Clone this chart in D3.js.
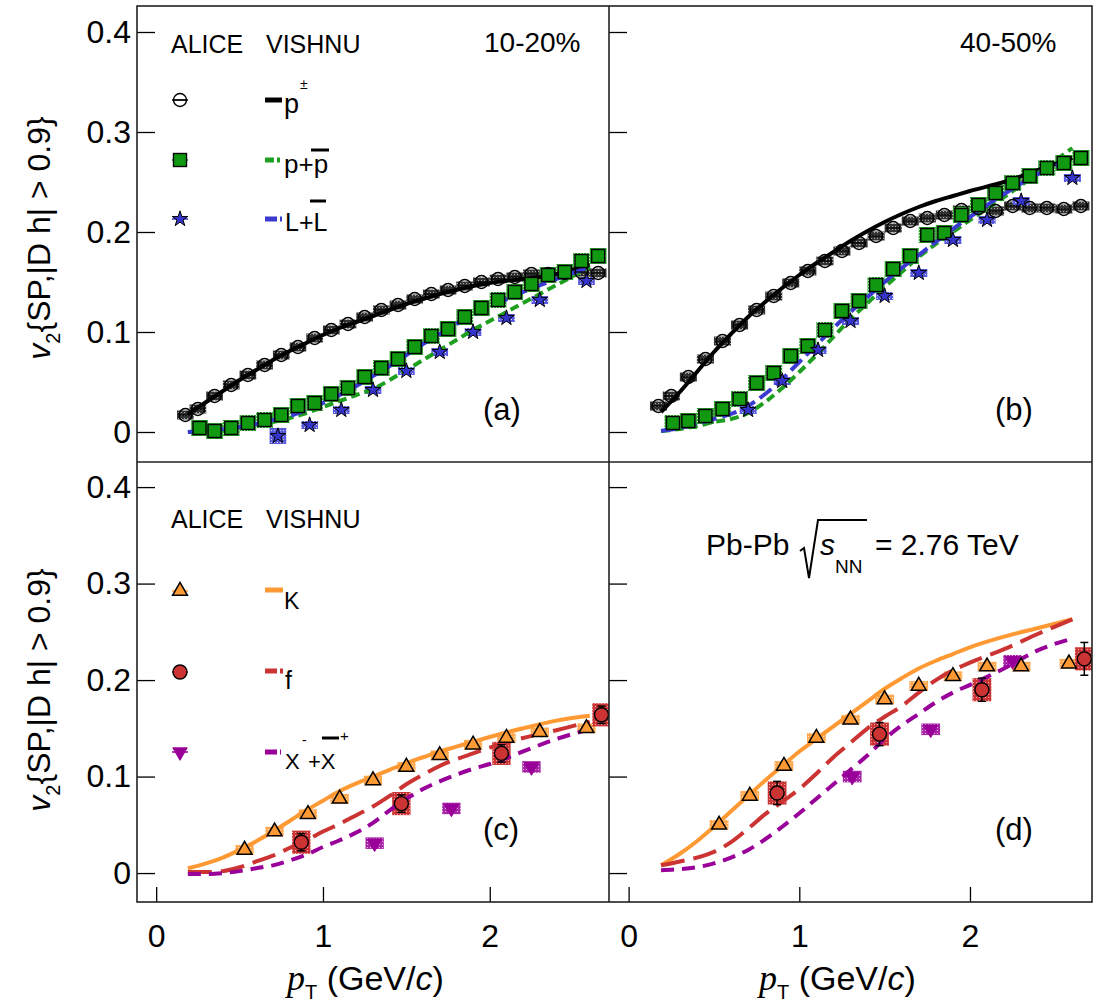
<!DOCTYPE html>
<html><head><meta charset="utf-8">
<script src="https://cdn.jsdelivr.net/npm/d3@7"></script>
<style>
body{margin:0;background:#fff}
svg{display:block}
text{font-family:"Liberation Sans",Arial,Helvetica,sans-serif;fill:#000}
</style>
</head><body>
<svg id="chart" width="1095" height="1006"></svg>
<script>
// ---------------- tick labels ----------------
const yTicks = [0, 0.1, 0.2, 0.3, 0.4];
const xTicks = [0, 1, 2];
const yTickLabels = ["0", "0.1", "0.2", "0.3", "0.4"];
const xTickLabels = ["0", "1", "2"];

// ---------------- measured points ----------------
// pions (a: 10-20%, b: 40-50%)
const piPt  = [0.175,0.25,0.35,0.45,0.55,0.65,0.75,0.85,0.95,1.05,1.15,1.25,1.35,1.45,1.55,1.65,1.75,1.85,1.95,2.05,2.15,2.25,2.35,2.45,2.55,2.65];
const piV2A = [0.017,0.023,0.036,0.047,0.057,0.067,0.077,0.085,0.094,0.102,0.108,0.115,0.122,0.127,0.133,0.138,0.142,0.146,0.150,0.153,0.155,0.158,0.158,0.159,0.160,0.159];
const piV2B = [0.026,0.036,0.055,0.073,0.091,0.107,0.122,0.136,0.149,0.161,0.171,0.181,0.189,0.196,0.204,0.211,0.214,0.217,0.222,0.224,0.221,0.226,0.224,0.224,0.223,0.226];
// protons
const pPt  = [0.26,0.35,0.45,0.55,0.65,0.75,0.85,0.95,1.05,1.15,1.25,1.35,1.45,1.55,1.65,1.75,1.85,1.95,2.05,2.15,2.25,2.35,2.45,2.55,2.65];
const pV2A = [0.004,0.001,0.004,0.009,0.012,0.017,0.026,0.029,0.038,0.044,0.055,0.064,0.073,0.085,0.096,0.103,0.115,0.124,0.132,0.140,0.148,0.157,0.160,0.171,0.176];
const pV2B = [0.009,0.011,0.016,0.023,0.033,0.049,0.059,0.076,0.086,0.102,0.121,0.131,0.147,0.163,0.176,0.197,0.199,0.217,0.227,0.239,0.249,0.256,0.264,0.269,0.274];
// lambdas
const laPtA = [0.73,0.92,1.11,1.30,1.50,1.70,1.90,2.10,2.30,2.58];
const laV2A = [-0.004,0.007,0.022,0.042,0.061,0.080,0.100,0.114,0.132,0.151];
const laSysA = [0.008,0.004,0.004,0.004,0.004,0.004,0.004,0.004,0.004,0.004];
const laPtB = [0.70,0.90,1.11,1.30,1.50,1.70,1.90,2.10,2.30,2.60];
const laV2B = [0.022,0.051,0.082,0.111,0.136,0.159,0.192,0.212,0.231,0.254];
// kaons (c: 10-20%, d: 40-50%)
const kPt  = [0.53,0.71,0.91,1.10,1.30,1.50,1.70,1.90,2.10,2.30,2.58];
const kV2C = [0.024,0.043,0.061,0.077,0.096,0.110,0.122,0.133,0.140,0.146,0.150];
const kV2D = [0.050,0.080,0.111,0.140,0.159,0.180,0.194,0.204,0.214,0.214,0.217];
// phi
const phiPt  = [0.87,1.47,2.07,2.67];
const phiV2C = [0.032,0.072,0.124,0.164];
const phiV2D = [0.083,0.144,0.190,0.222];
const phiErrC = [0.009,0.009,0.009,0.009];
const phiErrD = [0.012,0.012,0.012,0.017];
// xi
const xiPt  = [1.31,1.77,2.25];
const xiV2C = [0.031,0.067,0.110];
const xiV2D = [0.100,0.149,0.220];

// ---------------- VISHNU curves ----------------
const modelPt = [0.19,0.3,0.4,0.5,0.6,0.7,0.8,0.9,1.0,1.1,1.2,1.3,1.4,1.5,1.6,1.7,1.8,1.9,2.0,2.2,2.4,2.6];
const piModelA  = [0.018,0.030,0.041,0.052,0.062,0.072,0.081,0.089,0.097,0.104,0.110,0.116,0.122,0.128,0.133,0.138,0.142,0.146,0.149,0.153,0.158,0.167];
const pModelA   = [0.000,0.001,0.002,0.004,0.007,0.010,0.014,0.019,0.025,0.031,0.037,0.043,0.052,0.062,0.072,0.082,0.092,0.102,0.111,0.129,0.147,0.165];
const laModelA  = [0.000,0.001,0.003,0.005,0.008,0.012,0.016,0.022,0.029,0.037,0.046,0.056,0.066,0.077,0.088,0.098,0.108,0.117,0.125,0.140,0.153,0.165];
const piModelB  = [0.020,0.040,0.060,0.080,0.098,0.115,0.130,0.144,0.157,0.169,0.180,0.191,0.201,0.210,0.218,0.225,0.231,0.236,0.241,0.250,0.262,0.274];
const pModelB   = [0.001,0.003,0.006,0.010,0.013,0.019,0.030,0.044,0.060,0.077,0.095,0.113,0.129,0.145,0.160,0.175,0.188,0.200,0.212,0.235,0.259,0.284];
const laModelB  = [0.001,0.004,0.008,0.013,0.018,0.026,0.038,0.053,0.070,0.087,0.104,0.120,0.135,0.150,0.164,0.177,0.190,0.203,0.215,0.238,0.258,0.273];
const kModelC   = [0.005,0.010,0.016,0.024,0.033,0.043,0.054,0.065,0.075,0.085,0.093,0.100,0.107,0.114,0.120,0.126,0.131,0.136,0.141,0.150,0.158,0.163];
const phiModelC = [0.001,0.001,0.002,0.006,0.012,0.018,0.026,0.034,0.043,0.051,0.060,0.069,0.080,0.092,0.102,0.111,0.118,0.124,0.130,0.140,0.148,0.157];
const xiModelC  = [-0.001,-0.001,0.000,0.002,0.005,0.008,0.013,0.019,0.027,0.034,0.042,0.052,0.065,0.077,0.087,0.095,0.102,0.108,0.113,0.126,0.139,0.149];
const kModelD   = [0.008,0.020,0.033,0.048,0.064,0.080,0.096,0.111,0.126,0.139,0.152,0.165,0.178,0.191,0.202,0.212,0.220,0.227,0.234,0.245,0.254,0.263];
const phiModelD = [0.008,0.012,0.016,0.022,0.032,0.046,0.061,0.074,0.087,0.103,0.120,0.135,0.150,0.162,0.173,0.187,0.200,0.210,0.218,0.232,0.248,0.263];
const xiModelD  = [0.003,0.004,0.006,0.010,0.016,0.024,0.035,0.048,0.062,0.077,0.092,0.107,0.122,0.139,0.153,0.165,0.177,0.187,0.195,0.212,0.231,0.243];

// ---------------- styles ----------------
const FONT = '"Liberation Sans",Arial,Helvetica,sans-serif';
const species = {
  pi:  {marker:'ocircle', fill:'none',    box:'stPi', boxDx:0.05,  boxDy:0.0045, line:'#000000', dash:null,    lw:4},
  p:   {marker:'square',  fill:'#119911', box:'stP',  boxDx:0.05,  boxDy:0.008,  line:'#1f9f1f', dash:'9,5',   lw:4},
  la:  {marker:'star',    fill:'#3434cc', box:'stLa', boxDx:0.05,  boxDy:0.004,  line:'#3a3ad0', dash:'15,6',  lw:4},
  k:   {marker:'tri',     fill:'#ff9933', box:'stK',  boxDx:0.055, boxDy:0.005,  line:'#ff9933', dash:null,    lw:4},
  phi: {marker:'circle',  fill:'#cc3333', box:'stPhi',boxDx:0.055, boxDy:0.012,  line:'#cc3333', dash:'24,9',  lw:4},
  xi:  {marker:'dtri',    fill:'#990099', box:'stXi', boxDx:0.055, boxDy:0.006,  line:'#990099', dash:'13,8',  lw:4}
};

const xDom = [-0.115, 2.715];
const yDom = [-0.03, 0.426];
const L = 137, M = 609, R = 1092, T = 6, MID = 462, B = 902;

const panels = [
  {key:'a', px:[L,M], py:[T,MID], yLab:true, xAx:false,
   pts:[{sp:'pi',pt:piPt,v:piV2A},{sp:'p',pt:pPt,v:pV2A},{sp:'la',pt:laPtA,v:laV2A,sys:laSysA}],
   mods:[{sp:'pi',v:piModelA},{sp:'p',v:pModelA},{sp:'la',v:laModelA}]},
  {key:'b', px:[M,R], py:[T,MID], yLab:false, xAx:false,
   pts:[{sp:'pi',pt:piPt,v:piV2B},{sp:'p',pt:pPt,v:pV2B},{sp:'la',pt:laPtB,v:laV2B}],
   mods:[{sp:'pi',v:piModelB},{sp:'p',v:pModelB},{sp:'la',v:laModelB}]},
  {key:'c', px:[L,M], py:[MID,B], yLab:true, xAx:true,
   pts:[{sp:'k',pt:kPt,v:kV2C},{sp:'phi',pt:phiPt,v:phiV2C,err:phiErrC},{sp:'xi',pt:xiPt,v:xiV2C}],
   mods:[{sp:'k',v:kModelC},{sp:'phi',v:phiModelC},{sp:'xi',v:xiModelC}]},
  {key:'d', px:[M,R], py:[MID,B], yLab:false, xAx:true,
   pts:[{sp:'k',pt:kPt,v:kV2D},{sp:'phi',pt:phiPt,v:phiV2D,err:phiErrD},{sp:'xi',pt:xiPt,v:xiV2D}],
   mods:[{sp:'k',v:kModelD},{sp:'phi',v:phiModelD},{sp:'xi',v:xiModelD}]}
];

const svg = d3.select('#chart');
svg.append('rect').attr('width',1095).attr('height',1006).attr('fill','#fff');
const defs = svg.append('defs');
function stipple(id, bg, dot){
  const p = defs.append('pattern').attr('id',id).attr('width',3).attr('height',3).attr('patternUnits','userSpaceOnUse');
  p.append('rect').attr('width',3).attr('height',3).attr('fill',bg);
  p.append('rect').attr('x',1).attr('y',1).attr('width',1).attr('height',1).attr('fill',dot);
}
stipple('stPi','#333333','#aaaaaa');
stipple('stP','#2ea52e','#c4ecc4');
stipple('stLa','#5a5ae0','#d0d0f8');
stipple('stK','#ffa850','#ffe2c0');
stipple('stPhi','#cc3535','#f2a8a8');
stipple('stXi','#a626a6','#e8b0e8');

function drawMarker(g, type, cx, cy, fill, withBar, barColor){
  if (withBar){
    g.append('line').attr('x1',cx-8).attr('x2',cx+8).attr('y1',cy).attr('y2',cy)
      .attr('stroke',barColor).attr('stroke-width',1.5);
  }
  if (type==='ocircle'){
    g.append('circle').attr('cx',cx).attr('cy',cy).attr('r',6.5).attr('fill','none').attr('stroke','#000').attr('stroke-width',1.4);
    g.append('line').attr('x1',cx-6.5).attr('x2',cx+6.5).attr('y1',cy).attr('y2',cy).attr('stroke','#000').attr('stroke-width',1.2);
  } else if (type==='square'){
    g.append('rect').attr('x',cx-6.5).attr('y',cy-6.5).attr('width',13).attr('height',13)
      .attr('fill',fill).attr('stroke','#000').attr('stroke-width',1.4);
  } else if (type==='star'){
    g.append('path').attr('d',d3.symbol(d3.symbolStar,75)()).attr('transform',`translate(${cx},${cy})`)
      .attr('fill',fill).attr('stroke','#000').attr('stroke-width',1);
  } else if (type==='tri'){
    g.append('path').attr('d',d3.symbol(d3.symbolTriangle,95)()).attr('transform',`translate(${cx},${cy})`)
      .attr('fill',fill).attr('stroke','#000').attr('stroke-width',1.5);
  } else if (type==='circle'){
    g.append('circle').attr('cx',cx).attr('cy',cy).attr('r',7).attr('fill',fill).attr('stroke','#000').attr('stroke-width',1.4);
  } else if (type==='dtri'){
    g.append('path').attr('d',d3.symbol(d3.symbolTriangle,90)()).attr('transform',`translate(${cx},${cy}) rotate(180)`)
      .attr('fill',fill).attr('stroke',fill).attr('stroke-width',1);
  }
}

panels.forEach(P => {
  const x = d3.scaleLinear().domain(xDom).range(P.px);
  const y = d3.scaleLinear().domain(yDom).range([P.py[1], P.py[0]]);
  const cid = 'clip'+P.key;
  defs.append('clipPath').attr('id',cid).append('rect')
    .attr('x',P.px[0]).attr('y',P.py[0]).attr('width',P.px[1]-P.px[0]).attr('height',P.py[1]-P.py[0]);
  const g = svg.append('g').attr('clip-path',`url(#${cid})`);

  // systematic boxes
  P.pts.forEach(s => {
    const st = species[s.sp];
    s.pt.forEach((pt,i) => {
      const dy = s.sys ? s.sys[i] : st.boxDy;
      g.append('rect').attr('x',x(pt-st.boxDx)).attr('y',y(s.v[i]+dy))
        .attr('width',x(pt+st.boxDx)-x(pt-st.boxDx)).attr('height',y(s.v[i]-dy)-y(s.v[i]+dy))
        .attr('fill',`url(#${st.box})`);
    });
  });
  // model curves
  const line = d3.line().x((d,i)=>x(modelPt[i])).y(d=>y(d)).curve(d3.curveMonotoneX);
  P.mods.forEach(m => {
    const st = species[m.sp];
    g.append('path').attr('d',line(m.v)).attr('fill','none').attr('stroke',st.line)
      .attr('stroke-width',st.lw).attr('stroke-dasharray',st.dash);
  });
  // stat errors + markers
  P.pts.forEach(s => {
    const st = species[s.sp];
    s.pt.forEach((pt,i) => {
      if (s.err){
        const cx = x(pt), y1 = y(s.v[i]+s.err[i]), y2 = y(s.v[i]-s.err[i]);
        g.append('line').attr('x1',cx).attr('x2',cx).attr('y1',y1).attr('y2',y2).attr('stroke','#000').attr('stroke-width',1.5);
        [y1,y2].forEach(yy => g.append('line').attr('x1',cx-4).attr('x2',cx+4).attr('y1',yy).attr('y2',yy).attr('stroke','#000').attr('stroke-width',1.5));
      }
      drawMarker(g, st.marker, x(pt), y(s.v[i]), st.fill, false);
    });
  });

  // axes
  const ya = svg.append('g').attr('transform',`translate(${P.px[0]},0)`)
    .call(d3.axisLeft(y).tickValues(yTicks).tickSizeInner(-18).tickSizeOuter(0).tickPadding(6)
      .tickFormat((d,i)=> P.yLab ? yTickLabels[i] : ''));
  ya.select('.domain').remove();
  ya.selectAll('line').attr('stroke','#000').attr('stroke-width',1.3);
  ya.selectAll('text').attr('font-size',32).attr('font-family',FONT).attr('fill','#000');
  if (P.xAx){
    const xa = svg.append('g').attr('transform',`translate(0,${P.py[1]})`)
      .call(d3.axisBottom(x).tickValues(xTicks).tickSizeInner(-15).tickSizeOuter(0).tickPadding(22)
        .tickFormat((d,i)=>xTickLabels[i]));
    xa.select('.domain').remove();
    xa.selectAll('line').attr('stroke','#000').attr('stroke-width',1.3);
    xa.selectAll('text').attr('font-size',32).attr('font-family',FONT).attr('fill','#000');
  }
});

// frame
svg.append('rect').attr('x',L).attr('y',T).attr('width',R-L).attr('height',B-T)
  .attr('fill','none').attr('stroke','#222').attr('stroke-width',1.6);
svg.append('line').attr('x1',M).attr('x2',M).attr('y1',T).attr('y2',B).attr('stroke','#222').attr('stroke-width',1.6);
svg.append('line').attr('x1',L).attr('x2',R).attr('y1',MID).attr('y2',MID).attr('stroke','#222').attr('stroke-width',1.6);

// helper text
function txt(x0,y0,s,size,opts={}){
  const t = svg.append('text').attr('x',x0).attr('y',y0).attr('font-size',size).text(s);
  if (opts.italic) t.attr('font-style','italic');
  if (opts.family) t.attr('font-family',opts.family);
  if (opts.anchor) t.attr('text-anchor',opts.anchor);
  return t;
}
function legLine(x1,x2,yy,sp){
  const st = species[sp];
  svg.append('line').attr('x1',x1).attr('x2',x2).attr('y1',yy).attr('y2',yy)
    .attr('stroke',st.line).attr('stroke-width',5).attr('stroke-dasharray',st.dash ? (sp==='p'?'9,3,3,3':'12,3') : null);
}

// legend (a)
txt(171,53,'ALICE',25); txt(266,53,'VISHNU',25);
txt(484,52,'10-20%',28);
drawMarker(svg,'ocircle',180,100,'none',true,'#000');
legLine(265,282,100,'pi'); txt(284,113,'p',27); txt(300,89,'±',14);
drawMarker(svg,'square',180,160,species.p.fill,true,species.p.fill);
legLine(265,282,160,'p'); txt(284,173,'p+p',26);
svg.append('line').attr('x1',311).attr('x2',329).attr('y1',150).attr('y2',150).attr('stroke','#000').attr('stroke-width',3);
drawMarker(svg,'star',180,219,species.la.fill,true,species.la.fill);
legLine(265,282,219,'la'); txt(285,231,'L+L',25);
svg.append('line').attr('x1',310).attr('x2',326).attr('y1',201).attr('y2',201).attr('stroke','#000').attr('stroke-width',3);

// panel (b)
txt(960,52,'40-50%',28);

// legend (c)
txt(171,528,'ALICE',25); txt(266,528,'VISHNU',25);
drawMarker(svg,'tri',180,591,species.k.fill,true,species.k.fill);
legLine(265,283,590,'k'); txt(284,609,'K',23);
drawMarker(svg,'circle',180,672,species.phi.fill,true,species.phi.fill);
legLine(265,283,671,'phi'); txt(285,689,'f',25);
drawMarker(svg,'dtri',180,752,species.xi.fill,true,species.xi.fill);
legLine(265,281,752,'xi'); txt(285,769,'X',22); txt(302,745,'-',14);
txt(308,769,'+X',22);
svg.append('line').attr('x1',322).attr('x2',339).attr('y1',738).attr('y2',738).attr('stroke','#000').attr('stroke-width',3);
txt(340,741,'+',15);

// panel (d)
txt(706,555,'Pb-Pb',30);
svg.append('path').attr('d','M800,551 L804,548 L809,578 L818,520 L867,520')
  .attr('fill','none').attr('stroke','#000').attr('stroke-width',2);
txt(820,555,'s',30,{italic:true});
txt(835,573,'NN',19);
txt(875,555,'= 2.76 TeV',30);

// panel letters
txt(483,420,'(a)',31); txt(995,420,'(b)',31);
txt(483,840,'(c)',31); txt(995,840,'(d)',31);

// y labels
function yLabel(cy){
  const t = svg.append('text').attr('transform',`translate(50,${cy}) rotate(-90)`)
    .attr('text-anchor','middle').attr('font-size',32);
  t.append('tspan').attr('font-style','italic').text('v');
  t.append('tspan').attr('font-size',20).attr('dy',10).text('2');
  t.append('tspan').attr('dy',-10).text('{SP,|D h| > 0.9}');
}
yLabel(238); yLabel(690);

// x labels
function xLabel(x0){
  const t = svg.append('text').attr('x',x0).attr('y',990).attr('font-size',34);
  t.append('tspan').attr('font-family','"Liberation Serif","Times New Roman",serif').attr('font-style','italic').attr('font-size',36).text('p');
  t.append('tspan').attr('font-size',20).attr('dy',9).text('T');
  t.append('tspan').attr('dy',-9).text(' (GeV/');
  t.append('tspan').attr('font-style','italic').text('c');
  t.append('tspan').text(')');
}
xLabel(287); xLabel(759);
</script>
</body></html>
